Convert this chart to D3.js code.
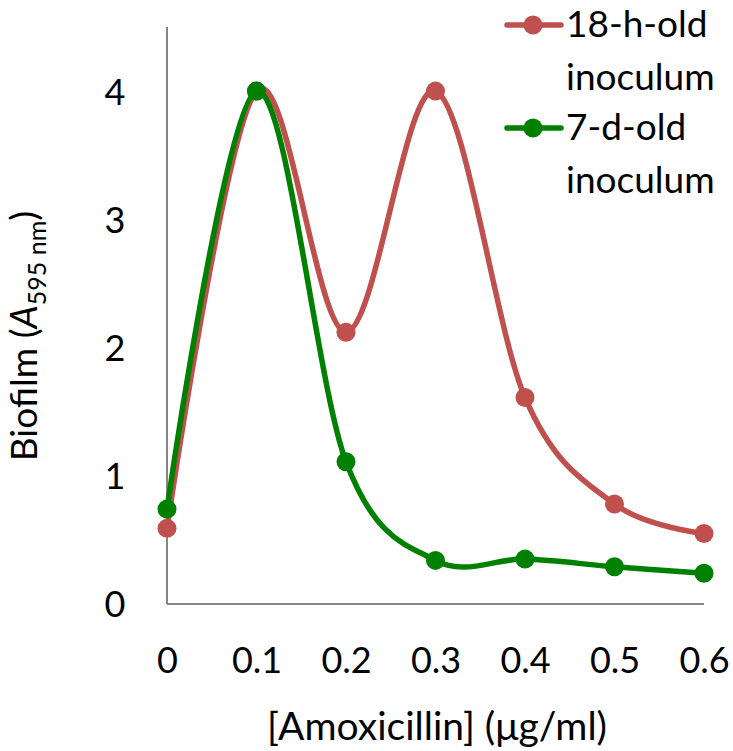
<!DOCTYPE html>
<html><head><meta charset="utf-8">
<script src="https://cdn.jsdelivr.net/npm/d3@7"></script>
<style>body{margin:0;background:#fff}svg{display:block}text{font-family:Lato,"Open Sans",sans-serif;fill:#000}</style>
</head><body>
<script>
const xValues = [0, 0.1, 0.2, 0.3, 0.4, 0.5, 0.6];
const red18h = [0.59, 4.0, 2.12, 4.0, 1.61, 0.78, 0.55];
const green7d = [0.74, 4.0, 1.11, 0.34, 0.35, 0.29, 0.24];
const yTicks = [0, 1, 2, 3, 4];
const xTickLabels = ["0", "0.1", "0.2", "0.3", "0.4", "0.5", "0.6"];
const seriesNames = [["18-h-old", "inoculum"], ["7-d-old", "inoculum"]];

const W = 733, H = 751;
const svg = d3.select("body").append("svg").attr("width", W).attr("height", H);
const x = d3.scaleLinear().domain([0, 0.6]).range([167, 704]);
const y = d3.scaleLinear().domain([0, 4.5]).range([604, 27]);

// axes
const gy = svg.append("g").attr("transform", "translate(167,0)")
  .call(d3.axisLeft(y).tickValues(yTicks).tickSize(0).tickFormat(d3.format("d")));
gy.select(".domain").attr("stroke", "#868686").attr("stroke-width", 2).attr("d", `M0,${y(4.5)}V${y(0)}`);
gy.selectAll("text").attr("font-size", 36).attr("font-family", "Lato").attr("text-anchor", "middle")
  .attr("x", -52).attr("dy", "0.36em");

const gx = svg.append("g").attr("transform", "translate(0,604)")
  .call(d3.axisBottom(x).tickValues(xValues).tickSize(0).tickFormat((d, i) => xTickLabels[i]));
gx.select(".domain").attr("stroke", "#868686").attr("stroke-width", 2).attr("d", `M${x(0)},0H${x(0.6)}`);
gx.selectAll("text").attr("font-size", 36).attr("font-family", "Lato").attr("dy", null).attr("y", 69);

// axis titles
svg.append("text").attr("x", 437).attr("y", 740).attr("text-anchor", "middle").attr("font-size", 39).text("[Amoxicillin] (μg/ml)");
const yl = svg.append("text").attr("transform", "translate(37,336) rotate(-90)").attr("text-anchor", "middle").attr("font-size", 37);
yl.append("tspan").text("Biofilm (");
yl.append("tspan").attr("font-style", "italic").text("A");
yl.append("tspan").attr("font-size", 25).attr("dy", 9).text("595 nm");
yl.append("tspan").attr("dy", -9).text(")");

const line = d3.line().x((d, i) => x(xValues[i])).y(d => y(d)).curve(d3.curveCardinal.tension(0));
const series = [{v: red18h, c: "#C0504D"}, {v: green7d, c: "#008000"}];
series.forEach(s => {
  svg.append("path").attr("d", line(s.v)).attr("fill", "none").attr("stroke", s.c).attr("stroke-width", 5.5).attr("stroke-linejoin", "round");
  svg.selectAll(null).data(s.v).enter().append("circle")
    .attr("cx", (d, i) => x(xValues[i])).attr("cy", d => y(d)).attr("r", 9.5).attr("fill", s.c);
});

// legend
const ly = [25, 128];
series.forEach((s, i) => {
  svg.append("line").attr("x1", 507).attr("x2", 561).attr("y1", ly[i]).attr("y2", ly[i]).attr("stroke", s.c).attr("stroke-width", 5.5).attr("stroke-linecap", "round");
  svg.append("circle").attr("cx", 533).attr("cy", ly[i]).attr("r", 9.5).attr("fill", s.c);
  svg.append("text").attr("x", 566).attr("y", ly[i] + 12).attr("font-size", 37).text(seriesNames[i][0]);
  svg.append("text").attr("x", 566).attr("y", ly[i] + 65).attr("font-size", 37).text(seriesNames[i][1]);
});
</script>
</body></html>
